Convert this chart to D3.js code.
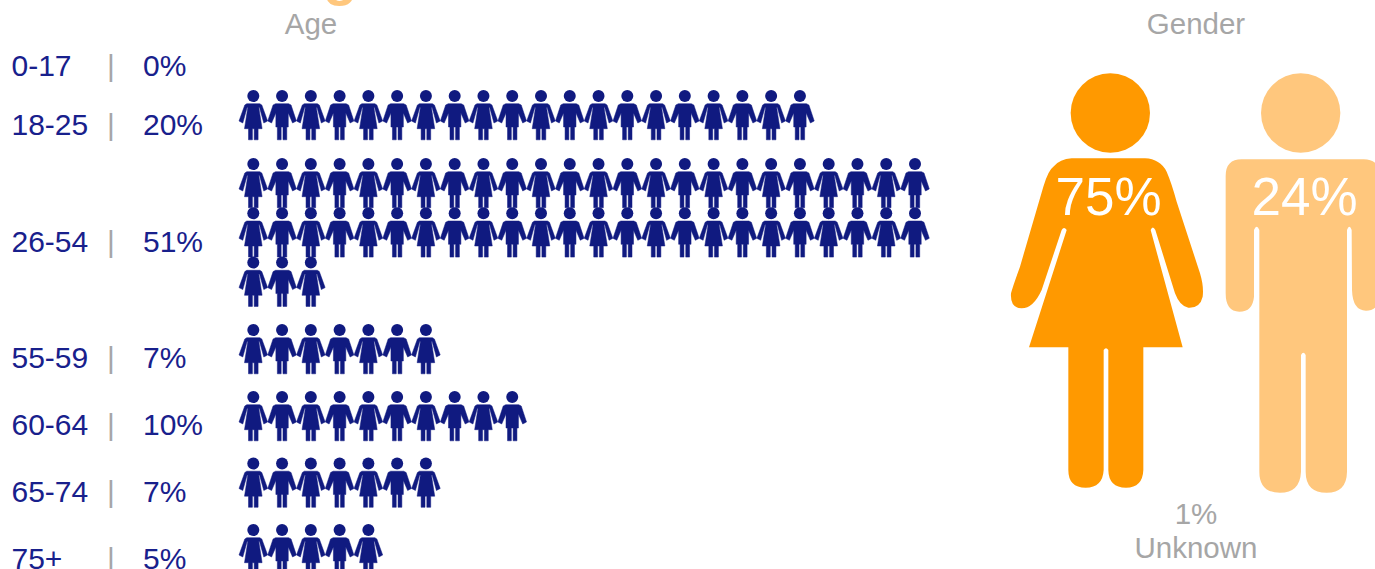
<!DOCTYPE html>
<html>
<head>
<meta charset="utf-8">
<style>
html, body { margin: 0; padding: 0; background: #fff; overflow: hidden; }
text { font-family: "Liberation Sans", Arial, sans-serif; }
</style>
<script src="https://cdn.jsdelivr.net/npm/d3@7"></script>
</head>
<body>
<script>
var ageLabels = ["0-17", "18-25", "26-54", "55-59", "60-64", "65-74", "75+"];
var agePercents = [0, 20, 51, 7, 10, 7, 5];
var genderLabels = ["Female", "Male"];
var genderPercents = [75, 24];
var unknownPercent = 1;

var navy = "#101a80", labelNavy = "#18208c", gray = "#a6a6a6";
var perLine = 24;

// small people, centre of head is 0,0
var smallWoman = "M-6.5,7.7H6.5L8.5,9L14.3,25L10.5,27L6.2,11.5L5.5,11.5L8.8,32.7H4.8V43.8H0.9V32.7H-0.9V43.8H-4.8V32.7H-8.8L-5.5,11.5L-6.2,11.5L-10.5,27L-14.3,25L-8.5,9Z";
var smallMan = "M-6.5,7.7H6.5L9,9L14.3,25L10.5,27L6.2,17V31H4.7V43.8H0.9V31H-0.9V43.8H-4.7V31H-6.2V17L-10.5,27L-14.3,25L-9,9Z";

// big figures, drawn at 3x and scaled down
var bigWoman = "M215,295L435,295Q480,297 500,335Q515,370 530,425L600,640Q612,680 608,710Q600,745 565,743Q540,740 525,700L466,510Q458,495 452,510L548,862L430,862L430,1230Q428,1283 378,1283Q326,1283 325,1230L325,870Q318,860 311,870L311,1230Q308,1283 257,1283Q205,1283 205,1230L205,862L87,862L200,510Q192,498 185,510L125,690Q100,745 65,745Q30,745 33,700Q38,680 60,620L130,380Q145,330 160,320Q180,297 215,295Z";
var bigMan = "M725,298L1091,298Q1139,298 1139,348L1139,700Q1139,752 1098,752Q1058,752 1056,690L1055,510Q1048,490 1041,510L1041,1235Q1040,1298 980,1298Q917,1298 917,1235L917,885Q910,872 903,885L903,1235Q900,1298 840,1298Q778,1298 778,1235L778,510Q770,490 762,510L762,710Q758,755 718,755Q677,755 677,700L677,348Q677,298 725,298Z";

var svg = d3.select("body").append("svg")
    .attr("width", 1375)
    .attr("height", 569);

// column and line of the icon grid
var x = d3.scaleLinear().domain([0, perLine - 1]).range([253.3, 915]);
var lineStep = d3.scaleLinear().domain([0, 1]).range([0, 49.3]);
// rows are not evenly spaced in the original table
var headY = d3.scaleOrdinal().domain(ageLabels).range([37, 96, 164, 330, 397, 463.5, 530]);
var labelY = d3.scaleOrdinal().domain(ageLabels).range([76, 135, 252, 368, 435, 502, 568.5]);

// title is cut off by the top of the page, only the tail of the g shows
svg.append("text")
    .attr("x", 340).attr("y", -6)
    .attr("text-anchor", "middle")
    .style("font-size", "56px").style("font-weight", "bold")
    .style("fill", "#ffc77d")
    .text("g");

function heading(cx, y, txt, size, color) {
    svg.append("text")
        .attr("x", cx).attr("y", y)
        .attr("text-anchor", "middle")
        .style("font-size", size + "px")
        .style("fill", color)
        .text(txt);
}
heading(311, 34, "Age", 29.5, gray);
heading(1196, 34, "Gender", 29.5, gray);

var rows = ageLabels.map(function (label, i) {
    return {label: label, value: agePercents[i]};
});

var row = svg.selectAll("g.row")
    .data(rows)
    .enter().append("g")
    .attr("class", "row");

row.append("text")
    .attr("x", 11.5)
    .attr("y", function (d) { return labelY(d.label); })
    .style("font-size", "30px")
    .style("fill", labelNavy)
    .text(function (d) { return d.label; });

row.append("text")
    .attr("x", 111)
    .attr("y", function (d) { return labelY(d.label); })
    .attr("text-anchor", "middle")
    .style("font-size", "30px")
    .style("fill", gray)
    .text("|");

row.append("text")
    .attr("x", 143)
    .attr("y", function (d) { return labelY(d.label); })
    .style("font-size", "30px")
    .style("fill", labelNavy)
    .text(function (d) { return d.value + "%"; });

row.selectAll("g.person")
    .data(function (d) {
        return d3.range(d.value).map(function (n) { return {n: n, head: headY(d.label)}; });
    })
    .enter().append("g")
    .attr("class", "person")
    .attr("transform", function (d) {
        return "translate(" + x(d.n % perLine) + "," + (d.head + lineStep(Math.floor(d.n / perLine))) + ")";
    })
    .each(function (d) {
        var g = d3.select(this);
        g.append("circle").attr("r", 6).style("fill", navy);
        g.append("path")
            .attr("d", d.n % perLine % 2 == 0 ? smallWoman : smallMan)
            .style("fill", navy)
            .style("stroke", navy)
            .style("stroke-width", 0.5);
    });

// gender figures
var gender = svg.selectAll("g.gender")
    .data(genderLabels)
    .enter().append("g")
    .attr("class", "gender")
    .attr("transform", "translate(1000,60) scale(" + 1 / 3 + ")");

gender.append("circle")
    .attr("cx", function (d, i) { return i == 0 ? 331 : 902; })
    .attr("cy", 159)
    .attr("r", 119)
    .style("fill", function (d, i) { return i == 0 ? "#ff9900" : "#ffc77d"; });

gender.append("path")
    .attr("d", function (d, i) { return i == 0 ? bigWoman : bigMan; })
    .style("fill", function (d, i) { return i == 0 ? "#ff9900" : "#ffc77d"; });

genderPercents.forEach(function (v, i) {
    heading(i == 0 ? 1108.5 : 1304.5, 215, v + "%", 53, "#fff");
});

heading(1196, 524, unknownPercent + "%", 29.5, gray);
heading(1196, 558, "Unknown", 29.5, gray);
</script>
</body>
</html>
